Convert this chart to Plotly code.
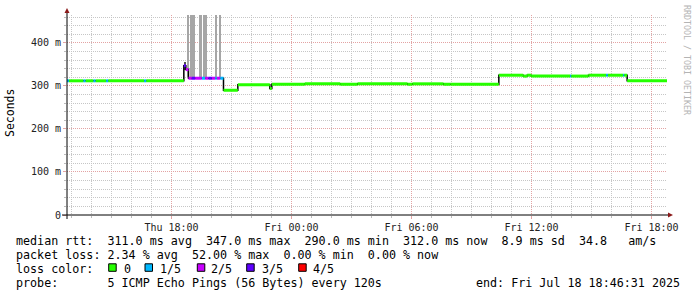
import plotly.graph_objects as go
from datetime import datetime, timedelta

# ---------------- data ----------------
start_time = "2025-07-17 12:46:31"
end_time = "2025-07-18 18:46:31"

# median rtt as steps: start time of each step, value (ms), lost pings (of 5)
rtt_time = [
    "2025-07-17 12:46:31", "2025-07-17 12:52", "2025-07-17 13:36", "2025-07-17 13:42",
    "2025-07-17 14:06", "2025-07-17 14:12", "2025-07-17 14:44", "2025-07-17 14:50",
    "2025-07-17 16:38", "2025-07-17 16:44", "2025-07-17 18:37", "2025-07-17 18:43",
    "2025-07-17 18:51", "2025-07-17 19:01", "2025-07-17 19:11", "2025-07-17 19:31",
    "2025-07-17 19:41", "2025-07-17 19:51", "2025-07-17 20:01", "2025-07-17 20:11",
    "2025-07-17 20:16", "2025-07-17 20:26", "2025-07-17 20:36", "2025-07-17 21:19",
    "2025-07-17 22:55", "2025-07-17 23:01", "2025-07-18 00:40", "2025-07-18 02:26",
    "2025-07-18 03:18", "2025-07-18 05:48", "2025-07-18 06:03", "2025-07-18 07:36",
    "2025-07-18 07:57", "2025-07-18 10:22", "2025-07-18 11:35", "2025-07-18 11:47",
    "2025-07-18 11:59", "2025-07-18 13:56", "2025-07-18 13:59", "2025-07-18 14:51",
    "2025-07-18 15:44", "2025-07-18 15:49", "2025-07-18 16:35", "2025-07-18 16:38",
    "2025-07-18 16:47",
]
rtt_ms = [
    312, 312, 312, 312,
    312, 312, 312, 312,
    312, 312, 347, 338,
    318, 318, 318, 318,
    318, 318, 318, 318,
    318, 318, 290, 303,
    294, 304, 305, 304,
    305, 304, 305, 304,
    304, 325, 323, 325,
    323, 323, 323, 325,
    325, 325, 325, 325,
    312,
]
rtt_loss = [
    1, 0, 1, 0,
    1, 0, 1, 0,
    1, 0, 3, 2,
    2, 3, 2, 1,
    2, 3, 2, 1,
    2, 1, 0, 0,
    0, 0, 0, 0,
    0, 0, 0, 0,
    0, 0, 0, 0,
    0, 1, 0, 0,
    1, 0, 1, 0,
    0,
]

# smoke (spread of individual pings): centre time, width (min), low, high (ms)
smoke_time = ["2025-07-17 18:49", "2025-07-17 18:58:30", "2025-07-17 19:07:30",
              "2025-07-17 19:28:30", "2025-07-17 19:42", "2025-07-17 20:13:30",
              "2025-07-17 20:25:30"]
smoke_width = [4, 3, 9, 9, 12, 3, 3]
smoke_low = [322, 322, 322, 322, 322, 322, 322]
smoke_high = [480, 480, 480, 480, 480, 480, 480]
dark_smoke_time = ["2025-07-17 18:41"]
dark_smoke_width = [6]
dark_smoke_low = [336]
dark_smoke_high = [356]

loss_labels = ["0", "1/5", "2/5", "3/5", "4/5"]
loss_colors = ["#26ff00", "#00b8ff", "#c800ff", "#5e00ff", "#ff0000"]

y_tickvals = [0, 100, 200, 300, 400]
y_ticktext = ["0", "100 m", "200 m", "300 m", "400 m"]

line1 = "median rtt:  311.0 ms avg  347.0 ms max  290.0 ms min  312.0 ms now  8.9 ms sd  34.8   am/s"
line2 = "packet loss: 2.34 % avg  52.00 % max  0.00 % min  0.00 % now"
line3 = "loss color:"
line4 = "probe:       5 ICMP Echo Pings (56 Bytes) every 120s"
line4_end = "end: Fri Jul 18 18:46:31 2025"
watermark = "RRDTOOL / TOBI OETIKER"

# ---------------- layout geometry ----------------
W, H = 697, 297
L, T, PW, PH = 67, 15, 600, 200
B = H - T - PH
R = W - L - PW


def px2x(px):
    return (px - L) / PW


def px2y(py):
    return (T + PH - py) / PH


def parse(s):
    for f in ("%Y-%m-%d %H:%M:%S", "%Y-%m-%d %H:%M"):
        try:
            return datetime.strptime(s, f)
        except ValueError:
            pass
    raise ValueError(s)


fig = go.Figure()

# smoke
fig.add_trace(go.Bar(
    x=[parse(t) for t in smoke_time],
    y=[h - l for h, l in zip(smoke_high, smoke_low)],
    base=smoke_low,
    width=[w * 60000 for w in smoke_width],
    marker=dict(color="#a6a6a6", line=dict(width=0)),
    hoverinfo="skip", showlegend=False,
))
fig.add_trace(go.Bar(
    x=[parse(t) for t in dark_smoke_time],
    y=[h - l for h, l in zip(dark_smoke_high, dark_smoke_low)],
    base=dark_smoke_low,
    width=[w * 60000 for w in dark_smoke_width],
    marker=dict(color="#505050", line=dict(width=0)),
    hoverinfo="skip", showlegend=False,
))

# black step line of the median
xs = [parse(t) for t in rtt_time] + [parse(end_time)]
ys = rtt_ms + [rtt_ms[-1]]
fig.add_trace(go.Scatter(x=xs, y=ys, mode="lines", line=dict(color="black", width=1.5, shape="hv"),
                         hoverinfo="skip", showlegend=False))

# coloured median segments by loss
for lvl, col in enumerate(loss_colors):
    sx, sy = [], []
    for i in range(len(rtt_time)):
        if rtt_loss[i] != lvl:
            continue
        t0 = xs[i]
        t1 = xs[i + 1]
        sx += [t0, t1, None]
        sy += [rtt_ms[i], rtt_ms[i], None]
    if sx:
        fig.add_trace(go.Scatter(x=sx, y=sy, mode="lines", line=dict(color=col, width=3),
                                 hoverinfo="skip", showlegend=False))

red = "#e3a3a3"
minor_grey = "#c6c6c6"
mono = "DejaVu Sans Mono"
dash = "1px,1px"

fig.update_layout(
    width=W, height=H,
    margin=dict(l=L, r=R, t=T, b=B, pad=0),
    paper_bgcolor="white", plot_bgcolor="white",
    bargap=0, barmode="overlay",
    showlegend=False,
    xaxis=dict(
        type="date", range=[parse(start_time), parse(end_time)],
        tickmode="linear", tick0="2025-07-17 00:00:00", dtick=6 * 3600 * 1000,
        tickformat="%a %H:%M",
        showgrid=True, gridcolor=red, griddash=dash, gridwidth=1,
        ticks="outside", ticklen=3, tickcolor=red, tickwidth=1,
        tickfont=dict(family=mono, size=10, color="#222"),
        showline=False, zeroline=False,
        minor=dict(tick0="2025-07-17 00:00:00", dtick=3600 * 1000, showgrid=True,
                   gridcolor=minor_grey, griddash=dash, gridwidth=1,
                   ticks="outside", ticklen=2, tickcolor="#bbbbbb"),
    ),
    yaxis=dict(
        range=[0, 465],
        tickmode="array", tickvals=y_tickvals, ticktext=y_ticktext,
        showgrid=True, gridcolor=red, griddash=dash, gridwidth=1,
        ticks="outside", ticklen=3, tickcolor=red,
        tickfont=dict(family=mono, size=10, color="#222"),
        showline=False, zeroline=False,
        minor=dict(tickmode="linear", tick0=0, dtick=20, showgrid=True,
                   gridcolor=minor_grey, griddash=dash, gridwidth=1,
                   ticks="outside", ticklen=2, tickcolor="#bbbbbb"),
    ),
)

shapes = []
# axis lines
shapes.append(dict(type="line", xref="paper", yref="paper", x0=px2x(62), x1=px2x(669), y0=0, y1=0,
                   line=dict(color="black", width=1)))
shapes.append(dict(type="line", xref="paper", yref="paper", x0=0, x1=0, y0=px2y(219), y1=px2y(12),
                   line=dict(color="black", width=1)))
# arrows
arrow_col = "#8b1a1a"
shapes.append(dict(type="path", xref="paper", yref="paper",
                   path=f"M {px2x(64.5)},{px2y(13)} L {px2x(69.5)},{px2y(13)} L {px2x(67)},{px2y(8)} Z",
                   fillcolor=arrow_col, line=dict(color=arrow_col, width=0)))
shapes.append(dict(type="path", xref="paper", yref="paper",
                   path=f"M {px2x(668)},{px2y(212.5)} L {px2x(668)},{px2y(217.5)} L {px2x(673)},{px2y(215)} Z",
                   fillcolor=arrow_col, line=dict(color=arrow_col, width=0)))

# loss colour legend squares
sq_x = [108.7, 145.0, 197.3, 246.7, 298.7]
lab_x = [124.0, 160.0, 210.7, 262.0, 313.0]
for xx, col in zip(sq_x, loss_colors):
    shapes.append(dict(type="rect", xref="paper", yref="paper",
                       x0=px2x(xx), x1=px2x(xx + 7.5), y0=px2y(271.3), y1=px2y(263.8),
                       fillcolor=col, line=dict(color="black", width=1)))
fig.update_layout(shapes=shapes)

fs = 11.7
ann = []


def text(s, x, y, xanchor="left", size=fs, color="black", angle=0, family=mono):
    ann.append(dict(text=s, x=px2x(x), y=px2y(y), xref="paper", yref="paper",
                    xanchor=xanchor, yanchor="middle", showarrow=False, textangle=angle,
                    font=dict(family=family, size=size, color=color), borderpad=0, borderwidth=0))


text(line1.replace(" ", "\u00a0"), 16, 241)
text(line2.replace(" ", "\u00a0"), 16, 255)
text(line3.replace(" ", "\u00a0"), 16, 268.5)
for lx, lab in zip(lab_x, loss_labels):
    text(lab, lx, 268.5)
text(line4.replace(" ", "\u00a0"), 16, 283)
text(line4_end.replace(" ", "\u00a0"), 680, 283, xanchor="right")
# y axis title
ann.append(dict(text="Seconds", x=px2x(10), y=px2y(113), xref="paper", yref="paper",
                xanchor="center", yanchor="middle", showarrow=False, textangle=-90,
                font=dict(family=mono, size=11.5, color="black")))
# watermark
ann.append(dict(text=watermark, x=px2x(687), y=px2y(60), xref="paper", yref="paper",
                xanchor="center", yanchor="middle", showarrow=False, textangle=90,
                font=dict(family=mono, size=8.3, color="#b4b4b4")))
fig.update_layout(annotations=ann)

fig.write_html("out.html")
